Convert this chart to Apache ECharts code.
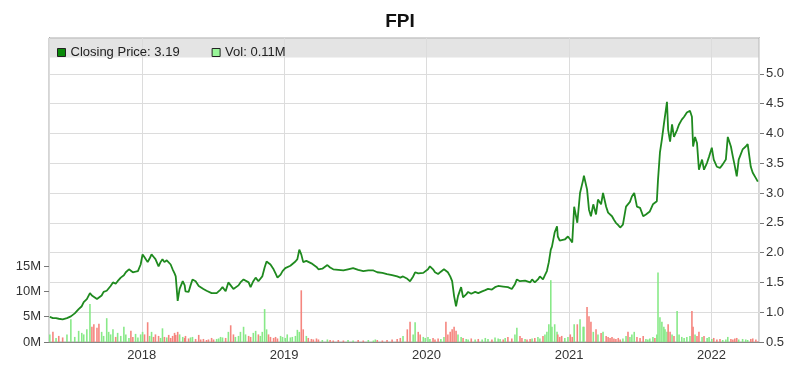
<!DOCTYPE html>
<html>
<head>
<meta charset="utf-8">
<script src="https://cdn.jsdelivr.net/npm/echarts@6/dist/echarts.min.js"></script>
<style>
html,body{margin:0;padding:0;background:#fff;}
#chart{width:800px;height:374px;}
</style>
</head>
<body>
<div id="chart"></div>
<script>
var title = 'FPI';
var dates = [
'2017-05-10','2017-05-18','2017-05-26','2017-06-02','2017-06-12','2017-06-23','2017-07-03','2017-07-13','2017-07-23','2017-07-31',
'2017-08-05','2017-08-13','2017-08-21','2017-08-26','2017-08-31','2017-09-08','2017-09-13','2017-09-20','2017-09-25','2017-10-03',
'2017-10-08','2017-10-13','2017-10-19','2017-10-26','2017-10-31','2017-11-08','2017-11-16','2017-11-21','2017-11-29','2017-12-04',
'2017-12-09','2017-12-16','2017-12-22','2017-12-29',
'2018-01-03','2018-01-08','2018-01-16','2018-01-21','2018-01-26','2018-01-31','2018-02-05','2018-02-13','2018-02-18','2018-02-23',
'2018-02-28','2018-03-06','2018-03-11','2018-03-16','2018-03-21','2018-03-26','2018-03-29','2018-04-03','2018-04-08','2018-04-16',
'2018-04-21','2018-04-23','2018-05-01','2018-05-06','2018-05-11','2018-05-19','2018-05-27','2018-06-01','2018-06-08','2018-06-16',
'2018-06-21','2018-06-29','2018-07-04','2018-07-12','2018-07-17','2018-07-22','2018-07-27','2018-08-04','2018-08-11','2018-08-17',
'2018-08-24','2018-08-29','2018-09-06','2018-09-11','2018-09-19','2018-09-24','2018-10-02','2018-10-07','2018-10-14','2018-10-20',
'2018-10-27','2018-11-01','2018-11-06','2018-11-12','2018-11-17','2018-11-22','2018-11-27','2018-12-05','2018-12-10','2018-12-15',
'2018-12-23','2018-12-28',
'2019-01-04','2019-01-09','2019-01-17','2019-01-22','2019-01-30','2019-02-04','2019-02-09','2019-02-14','2019-02-19','2019-02-27',
'2019-03-04','2019-03-12','2019-03-17','2019-03-25','2019-03-30','2019-04-09','2019-04-22','2019-04-29','2019-05-07','2019-05-20',
'2019-06-02','2019-06-14','2019-06-27','2019-07-10','2019-07-23','2019-08-05','2019-08-18','2019-08-23','2019-08-28','2019-09-10',
'2019-09-22','2019-10-05','2019-10-18','2019-10-26','2019-11-02','2019-11-13','2019-11-20','2019-11-28','2019-12-03','2019-12-11',
'2019-12-16','2019-12-24','2019-12-29',
'2020-01-05','2020-01-10','2020-01-18','2020-01-23','2020-01-31','2020-02-07','2020-02-15','2020-02-20','2020-02-25','2020-03-02',
'2020-03-07','2020-03-12','2020-03-17','2020-03-22','2020-03-30','2020-04-04','2020-04-12','2020-04-17','2020-04-25','2020-05-05',
'2020-05-13','2020-05-23','2020-05-31','2020-06-07','2020-06-17','2020-06-25','2020-07-03','2020-07-08','2020-07-16','2020-07-21',
'2020-07-28','2020-08-07','2020-08-15','2020-08-20','2020-08-28','2020-09-02','2020-09-10','2020-09-15','2020-09-23','2020-09-28',
'2020-10-05','2020-10-13','2020-10-18','2020-10-26','2020-10-31','2020-11-05','2020-11-10','2020-11-15','2020-11-18','2020-11-25',
'2020-12-01','2020-12-03','2020-12-08','2020-12-13','2020-12-21','2020-12-29',
'2021-01-04','2021-01-09','2021-01-14','2021-01-22','2021-01-29','2021-02-06','2021-02-08','2021-02-16','2021-02-21','2021-02-26',
'2021-03-04','2021-03-11','2021-03-16','2021-03-24','2021-03-29','2021-04-06','2021-04-11','2021-04-16','2021-04-21','2021-04-26',
'2021-05-01','2021-05-07','2021-05-12','2021-05-19','2021-05-27','2021-06-01','2021-06-06','2021-06-11','2021-06-17','2021-06-24',
'2021-07-02','2021-07-10','2021-07-17','2021-07-22','2021-07-27','2021-08-04','2021-08-09','2021-08-14','2021-08-17','2021-08-22',
'2021-08-27','2021-09-01','2021-09-04','2021-09-09','2021-09-12','2021-09-17','2021-09-22','2021-09-27','2021-10-05','2021-10-10',
'2021-10-17','2021-10-23','2021-10-30','2021-11-07','2021-11-12','2021-11-15','2021-11-20','2021-11-25','2021-11-30','2021-12-08',
'2021-12-13','2021-12-21','2021-12-26',
'2022-01-02','2022-01-07','2022-01-15','2022-01-23','2022-01-30','2022-02-07','2022-02-12','2022-02-20','2022-02-25','2022-03-02',
'2022-03-07','2022-03-12','2022-03-22','2022-03-30','2022-04-04','2022-04-12','2022-04-17','2022-04-25','2022-04-30'
];
var closingPrice = [
0.92,0.90,0.90,0.89,0.88,0.90,0.93,0.98,1.05,1.10,
1.17,1.22,1.32,1.28,1.25,1.22,1.20,1.28,1.34,1.36,
1.39,1.44,1.50,1.48,1.52,1.58,1.62,1.67,1.72,1.70,
1.67,1.68,1.69,1.80,
1.97,1.92,1.84,1.90,1.97,1.93,1.89,1.77,1.84,1.89,
1.84,1.87,1.85,1.80,1.72,1.65,1.60,1.19,1.39,1.52,
1.45,1.35,1.34,1.45,1.55,1.52,1.44,1.42,1.39,1.36,
1.34,1.32,1.30,1.32,1.35,1.38,1.42,1.35,1.50,1.45,
1.39,1.39,1.45,1.50,1.55,1.58,1.50,1.42,1.52,1.58,
1.52,1.55,1.60,1.75,1.85,1.82,1.80,1.72,1.65,1.58,
1.63,1.69,
1.74,1.77,1.78,1.80,1.85,1.89,2.05,1.97,1.84,1.86,
1.84,1.82,1.80,1.76,1.72,1.73,1.79,1.75,1.72,1.71,
1.70,1.72,1.74,1.71,1.69,1.70,1.70,1.73,1.67,1.66,
1.64,1.62,1.60,1.58,1.60,1.56,1.52,1.60,1.67,1.65,
1.64,1.66,1.67,
1.72,1.77,1.72,1.67,1.64,1.68,1.72,1.70,1.67,1.60,
1.52,1.27,1.10,1.27,1.42,1.25,1.30,1.34,1.31,1.34,
1.32,1.35,1.37,1.39,1.38,1.42,1.44,1.47,1.43,1.44,
1.42,1.39,1.47,1.55,1.52,1.50,1.53,1.52,1.50,1.55,
1.50,1.55,1.60,1.55,1.62,1.69,1.84,2.05,2.10,2.34,
2.44,2.27,2.20,2.17,2.22,2.27,
2.22,2.17,2.77,2.50,3.00,3.22,3.29,3.06,2.72,2.61,
2.81,2.64,2.89,2.81,3.00,2.77,2.67,2.64,2.61,2.55,
2.50,2.46,2.42,2.47,2.77,2.75,2.85,2.94,3.00,2.77,
2.75,2.61,2.64,2.66,2.69,2.81,2.80,2.86,3.22,3.68,
3.90,4.15,4.18,4.53,4.06,3.86,4.15,3.94,4.06,4.15,
4.23,4.28,4.35,4.38,4.28,3.78,3.94,3.84,3.39,3.56,
3.39,3.51,3.61,
3.76,3.56,3.44,3.42,3.48,3.56,3.94,3.78,3.61,3.45,
3.28,3.56,3.73,3.78,3.82,3.44,3.34,3.25,3.19
];
var volumeM = [
1.5,2.0,0.8,1.2,0.9,1.5,4.5,1.0,2.2,1.8,
1.5,2.5,7.5,3.0,3.5,2.8,3.6,2.0,1.2,4.7,
2.0,1.5,2.5,1.0,1.8,1.2,3.0,1.5,0.8,2.2,
1.0,1.6,0.9,1.5,
2.0,1.5,3.9,1.2,2.0,1.0,1.5,1.2,0.8,2.7,
1.0,0.9,1.4,0.8,1.2,1.8,1.4,2.0,1.5,1.0,
0.8,1.2,0.7,0.9,1.0,0.6,1.4,0.5,0.6,0.4,
0.5,0.8,0.5,0.6,0.7,1.0,0.9,0.8,2.0,3.3,
1.5,1.0,1.2,2.0,3.0,1.5,1.2,1.0,1.8,2.2,
1.5,1.2,2.0,6.5,2.5,1.5,1.0,0.8,1.0,0.7,
1.2,1.0,
0.8,1.5,0.9,1.0,1.2,2.4,2.0,10.2,2.5,1.2,
0.8,0.6,0.5,0.7,0.5,0.4,0.5,0.4,0.3,0.4,
0.3,0.4,0.3,0.4,0.3,0.4,0.3,0.5,0.4,0.3,
0.4,0.5,0.6,0.8,1.2,2.5,4.0,1.5,3.9,2.0,
1.5,1.0,0.8,
1.0,0.6,0.8,0.5,0.7,0.6,1.0,4.0,1.5,2.0,
2.5,3.0,2.2,1.5,1.0,0.8,0.6,0.5,0.7,0.5,
0.6,0.5,0.8,0.6,0.5,0.9,0.7,0.6,0.5,0.8,
1.0,0.7,1.5,2.8,1.2,0.8,0.6,0.5,0.6,0.7,
0.8,1.0,0.7,1.2,1.5,2.0,3.5,12.2,3.0,3.5,
2.0,1.5,1.0,1.2,0.8,1.0,
1.5,1.0,3.5,3.5,4.5,3.0,3.0,6.9,5.1,4.0,
2.0,2.5,1.5,1.8,2.0,1.2,1.0,0.8,1.0,0.7,
0.6,0.8,0.5,0.7,1.2,2.0,1.0,1.5,2.0,1.0,
0.8,1.2,0.6,0.5,0.7,1.0,0.8,1.5,13.7,4.9,
4.0,3.0,2.5,2.0,3.5,2.0,1.5,1.2,6.1,1.5,
1.0,0.8,1.0,1.2,6.1,3.0,1.5,1.2,2.0,1.0,
1.2,0.8,1.0,
0.6,0.8,0.5,0.6,0.4,0.5,1.0,0.6,0.5,0.7,
0.8,0.5,0.6,0.5,0.4,0.6,0.7,0.5,0.11
];
var volTickLabels = [0, 5e6, 10e6, 15e6];
var priceTickLabels = [0.5,1.0,1.5,2.0,2.5,3.0,3.5,4.0,4.5,5.0];

var FONT = 'Liberation Sans, Arial, sans-serif';
var lastPrice = closingPrice[closingPrice.length - 1];
var lastVol = volumeM[volumeM.length - 1];

var priceData = dates.map(function (d, i) { return [d, closingPrice[i]]; });
var volData = dates.map(function (d, i) {
  var up = i === 0 || closingPrice[i] >= closingPrice[i - 1];
  return {
    value: [d, volumeM[i] * 1e6],
    itemStyle: { color: up ? 'rgba(130,232,130,0.95)' : 'rgba(244,128,120,0.95)' }
  };
});

var chart = echarts.init(document.getElementById('chart'), null, { renderer: 'canvas' });
chart.setOption({
  animation: false,
  backgroundColor: '#fff',
  textStyle: { fontFamily: FONT },
  title: {
    text: title, left: 'center', top: 7,
    textStyle: { fontFamily: FONT, fontSize: 19, fontWeight: 'bold', color: '#111' }
  },
  grid: { left: 49, right: 41, top: 38, bottom: 32, show: true, borderColor: '#aaa', borderWidth: 1, backgroundColor: 'transparent' },
  graphic: [{
    type: 'rect', z: -1, zlevel: 0, silent: true,
    shape: { x: 49.5, y: 38.5, width: 709, height: 19 },
    style: { fill: '#e4e4e4', stroke: null }
  }],
  legend: {
    left: 52, top: 41, z: 10,
    itemWidth: 8, itemHeight: 8, itemGap: 32,
    icon: 'rect',
    textStyle: { fontFamily: FONT, fontSize: 13, color: '#222' },
    data: [
      { name: 'Closing Price', itemStyle: { color: '#0a8a0a', borderColor: '#222', borderWidth: 1 } },
      { name: 'Vol', itemStyle: { color: '#98f598', borderColor: '#222', borderWidth: 1 } }
    ],
    formatter: function (name) {
      return name === 'Vol' ? 'Vol: ' + lastVol.toFixed(2) + 'M' : 'Closing Price: ' + lastPrice.toFixed(2);
    },
    selectedMode: false
  },
  xAxis: {
    type: 'time', z: 2,
    min: '2017-05-10', max: '2022-05-01',
    minInterval: 365 * 24 * 3600 * 1000,
    splitNumber: 5,
    axisLine: { lineStyle: { color: '#888' } },
    axisTick: { show: false },
    axisLabel: { formatter: '{yyyy}', color: '#333', fontSize: 13, fontFamily: FONT, margin: 7 },
    splitLine: { show: true, lineStyle: { color: '#dcdcdc', width: 1 } }
  },
  yAxis: [{
    type: 'value', position: 'left', z: 0,
    min: 0, max: 60e6, interval: 5e6,
    axisLine: { show: true, lineStyle: { color: '#777' } },
    axisTick: { show: true, length: 5, customValues: volTickLabels, lineStyle: { color: '#777' } },
    axisLabel: {
      customValues: volTickLabels, color: '#333', fontSize: 13, fontFamily: FONT, margin: 8,
      formatter: function (v) { return (v / 1e6) + 'M'; }
    },
    splitLine: { show: false }
  }, {
    type: 'value', position: 'right', z: 1,
    min: 0.5, max: 5.6, interval: 0.5,
    axisLine: { show: true, lineStyle: { color: '#777' } },
    axisTick: { show: true, length: 5, customValues: priceTickLabels, lineStyle: { color: '#777' } },
    axisLabel: {
      customValues: priceTickLabels, color: '#333', fontSize: 13, fontFamily: FONT, margin: 7,
      formatter: function (v) { return v.toFixed(1); }
    },
    splitLine: { show: true, lineStyle: { color: '#dcdcdc', width: 1 } }
  }],
  series: [{
    name: 'Vol', type: 'bar', yAxisIndex: 0, barWidth: 1.6, z: 2,
    data: volData
  }, {
    name: 'Closing Price', type: 'line', yAxisIndex: 1, z: 3,
    showSymbol: false, symbol: 'none',
    lineStyle: { color: '#1f8a1f', width: 1.8 },
    itemStyle: { color: '#0a8a0a' },
    data: priceData
  }]
});
</script>
</body>
</html>
